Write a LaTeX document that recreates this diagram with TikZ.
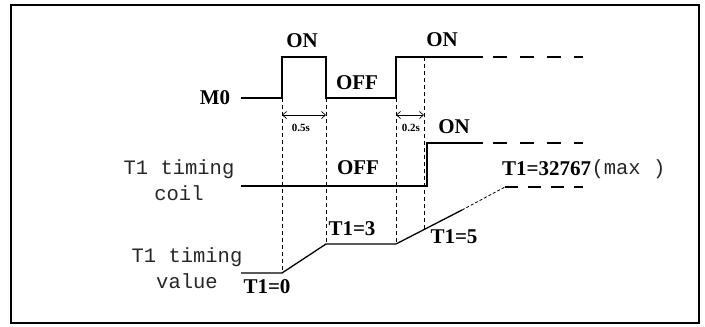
\documentclass[tikz,border=0pt]{standalone}
\usepackage{fontspec}
\setmainfont{Liberation Serif}
\newfontfamily\monof{Liberation Mono}
\usetikzlibrary{arrows.meta}
\begin{document}
\begin{tikzpicture}[x=1pt,y=-1pt,
  lbl/.style={font=\bfseries\fontsize{21}{24}\selectfont, inner sep=0},
  small/.style={font=\bfseries\fontsize{11}{12}\selectfont, inner sep=0},
  mono/.style={font=\monof\fontsize{20.5}{26}\selectfont, align=center, inner sep=0, text=black!85},
  wave/.style={line width=1.3pt},
  guide/.style={line width=0.8pt, dash pattern=on 4pt off 3pt},
  ext/.style={line width=1.3pt, dash pattern=on 14pt off 13pt},
  dim/.style={line width=0.7pt, {Straight Barb[length=4pt,width=7pt]}-{Straight Barb[length=4pt,width=7pt]}}]
\useasboundingbox (0,0) rectangle (705,327);
\draw[line width=2pt] (11,5) rectangle (699,323);

% M0 waveform
\coordinate (m0) at (241,98);
\coordinate (m1) at (282,98);
\coordinate (m2) at (282,57);
\coordinate (m3) at (326,57);
\coordinate (m4) at (326,98);
\coordinate (m5) at (396,98);
\coordinate (m6) at (396,57);
\coordinate (m7) at (483,57);
\coordinate (m8) at (583,57);
\coordinate (mt) at (424,57);
\draw[wave] (m0) -- (m1) -- (m2) -- (m3) -- (m4) -- (m5) -- (m6) -- (m7);
\draw[ext] (m7) ++(10,0) coordinate (m7b) (m7b) -- (m8);

% coil waveform
\coordinate (c0) at (241,186);
\coordinate (c1) at (427,186);
\coordinate (c2) at (427,143);
\coordinate (c3) at (483,143);
\coordinate (c4) at (583,143);
\draw[wave] (c0) -- (c1) -- (c2) -- (c3);
\draw[ext] (c3) ++(10,0) coordinate (c3b) (c3b) -- (c4);

% timing value
\coordinate (v0) at (241,273);
\coordinate (v1) at (282,273);
\coordinate (v2) at (326,244);
\coordinate (v3) at (396,244);
\coordinate (vt) at (424,229);
\coordinate (v4) at (462,210);
\coordinate (v5) at (505,187);
\coordinate (v6) at (583,187);
\draw[wave] (v0) -- (v1) -- (v2) -- (v3) -- (v4);
\draw[line width=0.8pt, dash pattern=on 3pt off 2pt] (v4) -- (v5);
\draw[line width=1.3pt, dash pattern=on 13pt off 10pt] (v5) -- (v6);

% guides
\draw[guide] (m1) -- (v1);
\draw[guide] (m4) -- (v2);
\draw[guide] (m5) -- (v3);
\draw[guide] (mt) -- (vt);

% dimension arrows
\coordinate (d1a) at (282,115);
\coordinate (d1b) at (326,115);
\coordinate (d2a) at (396,115);
\coordinate (d2b) at (424,115);
\draw[dim] (d1a) -- (d1b);
\draw[dim] (d2a) -- (d2b);
\node[small] (t05) at (301,128) {0.5s};
\node[small] (t02) at (411,128) {0.2s};

% labels
\node[lbl] (on1) at (302,41) {ON};
\node[lbl] (on2) at (442,40) {ON};
\node[lbl] (off1) at (357,83) {OFF};
\node[lbl] (m0l) at (215,98) {M0};
\node[lbl] (on3) at (454,127) {ON};
\node[lbl] (off2) at (358,168) {OFF};
\node[lbl] (t3) at (352,229) {T1=3};
\node[lbl] (t0) at (267,287) {T1=0};
\node[lbl] (t5) at (454,237) {T1=5};
\node[lbl, anchor=west] (tmax) at (502,169) {T1=32767};
\node[mono, anchor=west] (maxl) at (tmax.east) {(max )};

\node[mono] (coil) at (179,180) {T1 timing\\coil};
\node[mono] (val) at (187,268) {T1 timing\\value};
\end{tikzpicture}
\end{document}
